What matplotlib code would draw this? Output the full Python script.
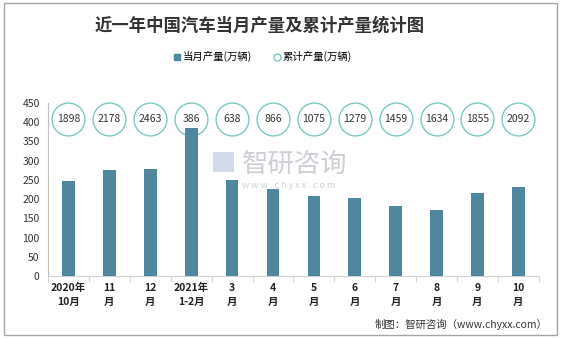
import matplotlib.pyplot as plt
from matplotlib.patches import Rectangle
from matplotlib.lines import Line2D

plt.rcParams['font.family'] = ['Noto Sans CJK SC', 'DejaVu Sans']

# monthly output and cumulative output (10k vehicles)
months = ['2020年\n10月', '11\n月', '12\n月', '2021年\n1-2月', '3\n月', '4\n月',
          '5\n月', '6\n月', '7\n月', '8\n月', '9\n月', '10\n月']
monthly = [247, 275, 278, 384, 250, 225, 208, 202, 182, 171, 215, 232]
cumulative = [1898, 2178, 2463, 386, 638, 866, 1075, 1279, 1459, 1634, 1855, 2092]

bar_color = '#4f879e'
ring_color = '#7cc8c4'

fig = plt.figure(figsize=(5.63, 3.38), dpi=100)
ax = fig.add_axes([0.0853, 0.1834, 0.8717, 0.5126])

x = list(range(len(months)))
ax.bar(x, monthly, width=0.31, color=bar_color, zorder=4)

# cumulative values shown in rings above the bars
ax.scatter(x, [409] * len(x), s=560, facecolor='white', edgecolor=ring_color,
           linewidth=1.0, zorder=2, clip_on=False)
for xi, v in zip(x, cumulative):
    ax.text(xi, 409, str(v), ha='center', va='center', fontsize=7.5,
            color='#333333', zorder=3)

ax.set_xlim(-0.5, len(months) - 0.5)
ax.set_ylim(0, 450)
ax.set_yticks(range(0, 451, 50))
ax.set_xticks(x)
ax.set_xticklabels(months, fontsize=7.5, fontweight='bold', color='#222222',
                   linespacing=1.5)
ax.set_xticks([i - 0.5 for i in range(len(months) + 1)], minor=True)
ax.tick_params(axis='x', which='major', length=0, pad=5)
ax.tick_params(axis='x', which='minor', length=4, color='#d0d0d0')
ax.tick_params(axis='y', length=0, labelsize=7.5, labelcolor='#333333', pad=6)

for side in ['top', 'right']:
    ax.spines[side].set_visible(False)
ax.spines['left'].set_color('#c0c0c0')
ax.spines['bottom'].set_color('#d0d0d0')

# title and legend
fig.text(0.462, 0.925, '近一年中国汽车当月产量及累计产量统计图', ha='center', va='center',
         fontsize=12.5, fontweight='bold', color='#333333')
handles = [
    Line2D([], [], linestyle='none', marker='s', markersize=5,
           markerfacecolor=bar_color, markeredgecolor=bar_color),
    Line2D([], [], linestyle='none', marker='o', markersize=5,
           markerfacecolor='white', markeredgecolor=ring_color),
]
fig.legend(handles, ['当月产量(万辆)', '累计产量(万辆)'], loc='center',
           bbox_to_anchor=(0.466, 0.832), ncol=2, frameon=False, fontsize=7.5,
           handletextpad=0.1, columnspacing=2.0, handlelength=0.8)

# watermark
fig.text(0.43, 0.515, '智研咨询', ha='left', va='center', fontsize=19,
         color='#c4c7cd', alpha=0.85, zorder=5)
fig.text(0.43, 0.452, 'w w w . c h y x x . c o m', ha='left', va='center',
         fontsize=6.5, color='#c4c7cd', alpha=0.85, zorder=5)
fig.patches.append(Rectangle((0.378, 0.49), 0.038, 0.06, transform=fig.transFigure,
                             facecolor='#c9d3e6', edgecolor='none', alpha=0.8, zorder=5))

# source note
fig.text(0.972, 0.04, '制图：智研咨询（www.chyxx.com）', ha='right', va='center',
         fontsize=7.5, color='#333333')

# outer frame
fig.patches.append(Rectangle((0.007, 0.009), 0.983, 0.982, transform=fig.transFigure,
                             facecolor='none', edgecolor='#a6a6a6', linewidth=1.0))

fig.savefig('out.png', dpi=100)
